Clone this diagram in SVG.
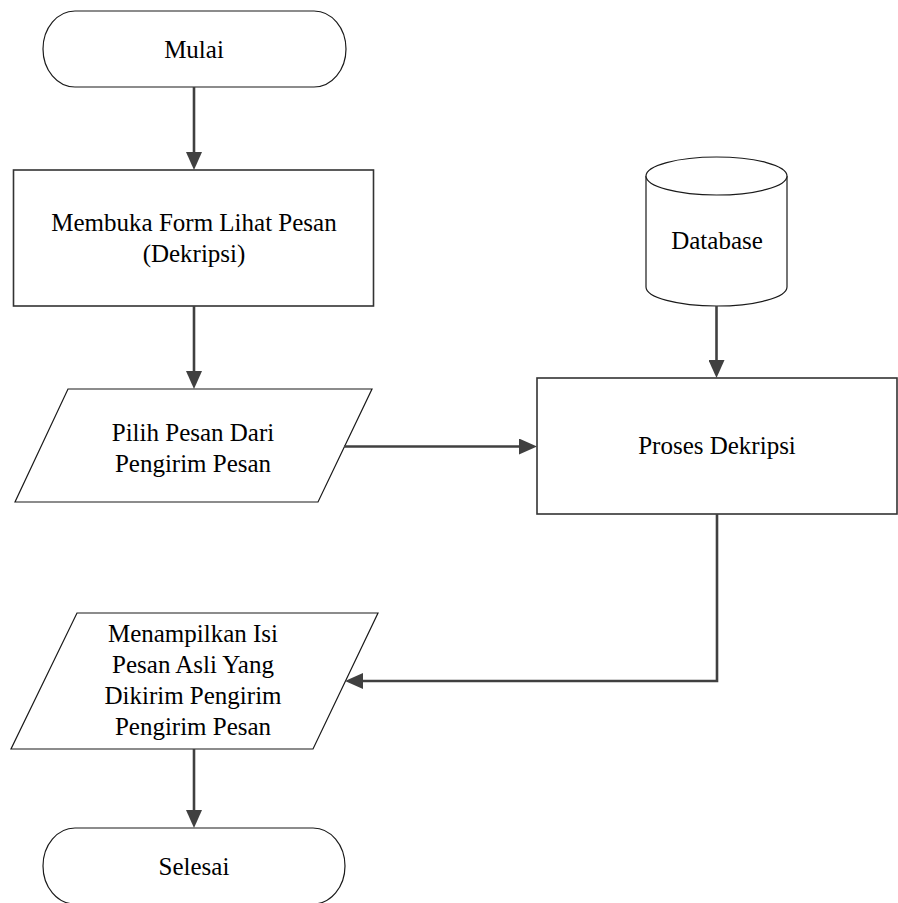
<svg xmlns="http://www.w3.org/2000/svg" width="898" height="903" viewBox="0 0 898 903">
  <style>
    .shape { fill: #ffffff; stroke: #1a1a1a; stroke-width: 1.2; }
    .box { fill: #ffffff; stroke: #333333; stroke-width: 1.6; }
    .label { font-family: 'Liberation Serif', 'Times New Roman', serif; font-size: 25px; fill: #000000; text-anchor: middle; }
    .conn { fill: none; stroke: #404040; stroke-width: 2.6; marker-end: url(#arrow); }
  </style>
  <defs>
    <marker id="arrow" markerUnits="userSpaceOnUse" viewBox="0 0 18 16" refX="9" refY="8" markerWidth="18" markerHeight="16" orient="auto">
      <path d="M0,0 L18,8 L0,16 z" fill="#404040"/>
    </marker>
  </defs>

  <rect width="898" height="903" fill="#ffffff"/>

  <!-- Start terminator -->
  <g id="mulai">
    <rect class="shape" x="43" y="11" width="303" height="76" rx="32" ry="38"/>
    <text class="label" x="194" y="58">Mulai</text>
  </g>

  <!-- Open the message form -->
  <g id="membuka-form">
    <rect class="box" x="13.5" y="170" width="360" height="136"/>
    <text class="label" x="194" y="231">Membuka Form Lihat Pesan</text>
    <text class="label" x="194" y="262">(Dekripsi)</text>
  </g>

  <!-- Select message input -->
  <g id="pilih-pesan">
    <polygon class="shape" points="68,389 372,389 318,502 15,502"/>
    <text class="label" x="193" y="441">Pilih Pesan Dari</text>
    <text class="label" x="193" y="472">Pengirim Pesan</text>
  </g>

  <!-- Database store -->
  <g id="database">
    <path class="shape" d="M646,176 L646,287 A70.5,19 0 0 0 787,287 L787,176"/>
    <ellipse class="shape" cx="716.5" cy="176" rx="70.5" ry="19"/>
    <text class="label" x="717" y="249">Database</text>
  </g>

  <!-- Decryption process -->
  <g id="proses-dekripsi">
    <rect class="box" x="537" y="378" width="360" height="136"/>
    <text class="label" x="717" y="454">Proses Dekripsi</text>
  </g>

  <!-- Output of decrypted message -->
  <g id="menampilkan-isi">
    <polygon class="shape" points="77,613 378,613 313,749 11,749"/>
    <text class="label" x="193" y="642">Menampilkan Isi</text>
    <text class="label" x="193" y="673">Pesan Asli Yang</text>
    <text class="label" x="193" y="704">Dikirim Pengirim</text>
    <text class="label" x="193" y="735">Pengirim Pesan</text>
  </g>

  <!-- End terminator -->
  <g id="selesai">
    <rect class="shape" x="43" y="828" width="302" height="76" rx="32" ry="38"/>
    <text class="label" x="194" y="875">Selesai</text>
  </g>

  <!-- Connectors -->
  <g id="connectors">
    <line class="conn" x1="194" y1="87" x2="194" y2="161"/>
    <line class="conn" x1="194" y1="306" x2="194" y2="380"/>
    <line class="conn" x1="344" y1="446.5" x2="528" y2="446.5"/>
    <line class="conn" x1="716.5" y1="306" x2="716.5" y2="369"/>
    <polyline class="conn" points="717,514 717,681 354,681"/>
    <line class="conn" x1="194" y1="749" x2="194" y2="819"/>
  </g>
</svg>
